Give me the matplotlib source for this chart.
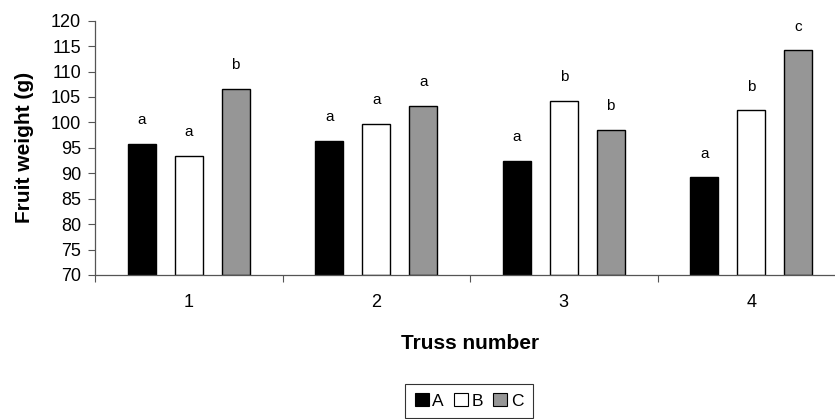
import matplotlib

matplotlib.use('Agg')
import matplotlib.pyplot as plt
import matplotlib.patches as mpatches
import numpy as np

plt.rcParams['font.family'] = ['Liberation Sans', 'DejaVu Sans']

# fruit weight per truss, three treatments
trusses = ['1', '2', '3', '4']
weight_A = [95.8, 96.4, 92.5, 89.2]
weight_B = [93.4, 99.7, 104.3, 102.4]
weight_C = [106.6, 103.3, 98.5, 114.2]
letters_A = ['a', 'a', 'a', 'a']
letters_B = ['a', 'a', 'b', 'b']
letters_C = ['b', 'a', 'b', 'c']

series = [
    ('A', weight_A, letters_A, 'black'),
    ('B', weight_B, letters_B, 'white'),
    ('C', weight_C, letters_C, '#969696'),
]

fig = plt.figure(figsize=(8.35, 4.19), dpi=100)
ax = fig.add_axes([0.1138, 0.3437, 0.8982, 0.6069])

x = np.arange(1, len(trusses) + 1)
offsets = [-0.25, 0.0, 0.25]
bottom = 70
for (name, vals, lets, color), off in zip(series, offsets):
  heights = [v - bottom for v in vals]
  ax.bar(x + off, heights, width=0.15, bottom=bottom, color=color,
         edgecolor='black', linewidth=1.0, label=name)
  for xi, v, l in zip(x + off, vals, lets):
    ax.annotate(l, (xi, v), xytext=(0, 12), textcoords='offset points',
                ha='center', va='bottom', fontsize=11)

ax.set_ylim(70, 120)
ax.set_yticks(range(70, 121, 5))
ax.set_xlim(0.5, 4.5)
ax.set_xticks(x)
ax.set_xticklabels(trusses)
ax.set_xticks(np.arange(0.5, 4.6, 1.0), minor=True)
ax.tick_params(axis='x', which='major', length=0, pad=14, labelsize=13)
ax.tick_params(axis='x', which='minor', length=5, width=0.8, color='#555555')
ax.tick_params(axis='y', length=5, width=0.8, pad=5, labelsize=13,
               color='#555555')

for side in ['top', 'right']:
  ax.spines[side].set_visible(False)
for side in ['left', 'bottom']:
  ax.spines[side].set_color('#555555')
  ax.spines[side].set_linewidth(0.9)

ax.set_xlabel('Truss number', fontsize=15, fontweight='bold', labelpad=16)
ax.set_ylabel('Fruit weight (g)', fontsize=15, fontweight='bold', labelpad=12)

handles = [
    mpatches.Patch(facecolor=c, edgecolor='black', linewidth=0.8, label=n)
    for n, _, _, c in series
]
leg = fig.legend(handles=handles, loc='center', ncol=3,
                 bbox_to_anchor=(469 / 835, 0.043), fontsize=12.5,
                 frameon=True, fancybox=False, handlelength=0.8,
                 handleheight=0.8, handletextpad=0.2, columnspacing=0.6,
                 borderpad=0.55, borderaxespad=0)
leg.get_frame().set_edgecolor('black')
leg.get_frame().set_linewidth(0.8)

fig.savefig('out.png', dpi=100)
plt.close(fig)
